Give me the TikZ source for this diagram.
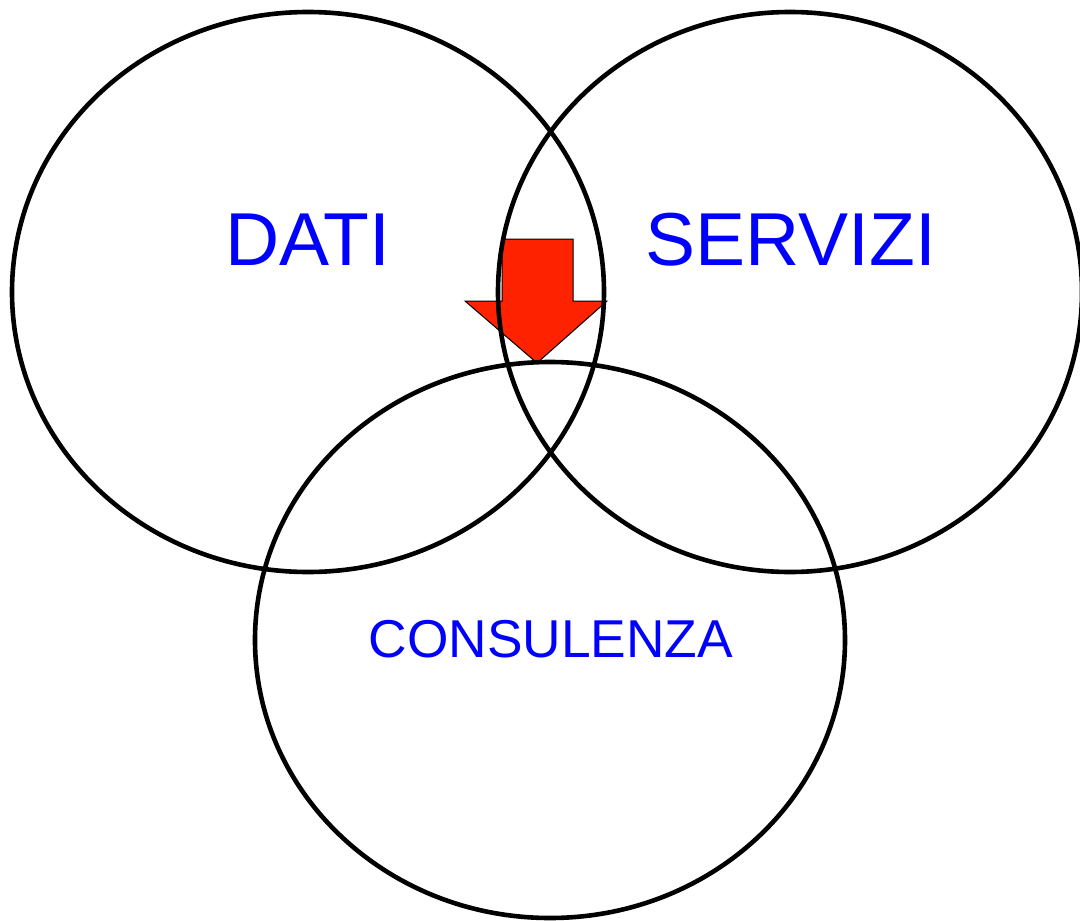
\documentclass[tikz,border=0pt]{standalone}
\usepackage{fontspec}
\setmainfont{Liberation Sans}
\usetikzlibrary{shapes.geometric}
\definecolor{arrred}{RGB}{255,34,0}
\definecolor{txtblue}{RGB}{0,0,255}
\begin{document}
\begin{tikzpicture}[x=1pt,y=-1pt,
  ring/.style={draw=black,line width=4.6pt,ellipse,inner sep=0pt,outer sep=0pt},
  bigtext/.style={text=txtblue,font=\fontsize{75}{78}\selectfont,inner sep=0pt},
  smalltext/.style={text=txtblue,font=\fontsize{53.3}{56}\selectfont,inner sep=0pt}]
\useasboundingbox (0,0) rectangle (1080,921);
\fill[white] (0,0) rectangle (1080,921);
% arrow
\filldraw[fill=arrred,draw=black,line width=1pt]
  (502,239) -- (573,239) -- (573,301) -- (607,301) -- (537,363) -- (465,301) -- (502,301) -- cycle;
% ellipses
\node[ring,minimum width=592pt,minimum height=560pt] (dati) at (308,292) {};
\node[ring,minimum width=584pt,minimum height=560pt] (servizi) at (790,292) {};
\node[ring,minimum width=590pt,minimum height=556pt] (consulenza) at (550,640) {};
\node[bigtext] (t1) at (308,240) {DATI};
\node[bigtext] (t2) at (791,240) {SERVIZI};
\node[smalltext] (t3) at (551,639) {CONSULENZA};
\end{tikzpicture}
\end{document}
